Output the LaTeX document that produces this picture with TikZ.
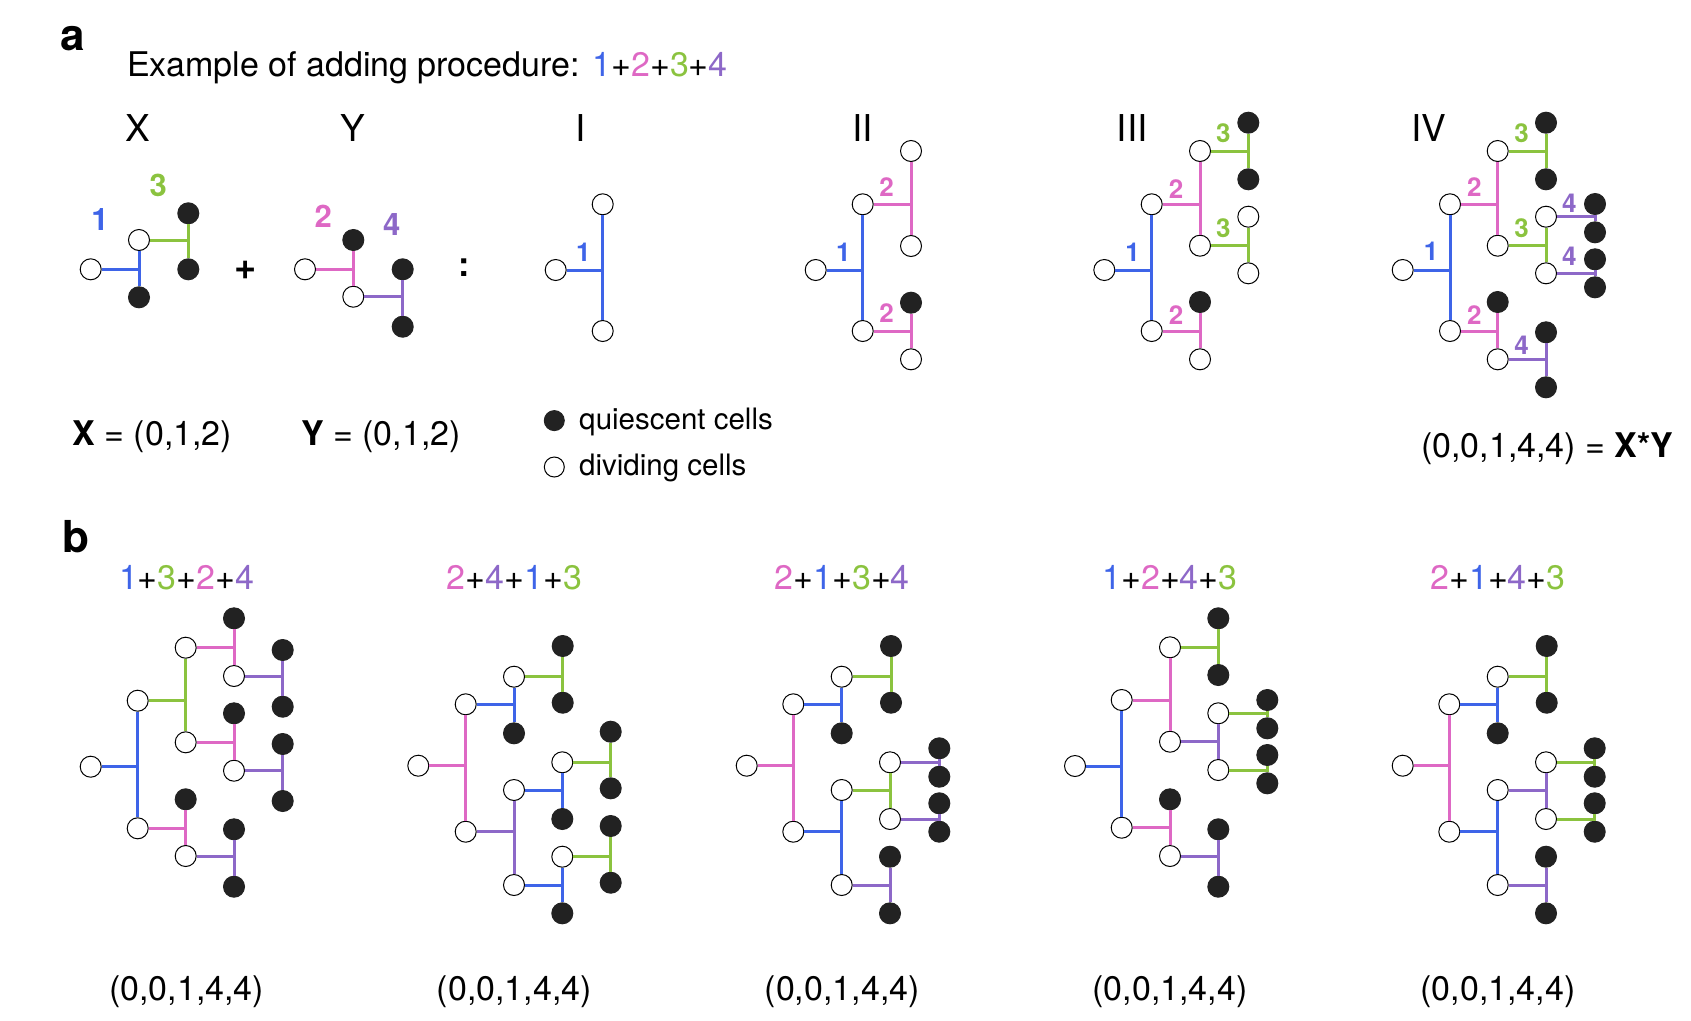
\documentclass[tikz,border=0pt]{standalone}
\usepackage{fontspec}
\setmainfont{TeX Gyre Heros}
\definecolor{cb}{RGB}{62,100,232}
\definecolor{cp}{RGB}{222,104,196}
\definecolor{cg}{RGB}{139,195,63}
\definecolor{cv}{RGB}{141,104,200}
\definecolor{cf}{RGB}{34,34,34}
\newcommand\mydiv[4]{\draw[#1] (#2) -- (#2 -| #3); \draw[#1] (#3) -- (#4);}
\newcommand\opn[2]{\node[oc] (#1) at (#2) {};}
\newcommand\fil[2]{\node[fc] (#1) at (#2) {};}
\begin{document}
\begin{tikzpicture}[x=1pt,y=-1pt,
  oc/.style={circle,draw=black,line width=1pt,fill=white,minimum size=21pt,inner sep=0pt},
  fc/.style={circle,draw=cf,fill=cf,line width=1pt,minimum size=21pt,inner sep=0pt},
  lb/.style={line width=3pt,cb},
  lp/.style={line width=3pt,cp},
  lg/.style={line width=3pt,cg},
  lv/.style={line width=3pt,cv},
  t34/.style={font=\fontsize{34}{40}\selectfont,inner sep=0pt},
  t30/.style={font=\fontsize{29.5}{36}\selectfont,inner sep=0pt},
  t37/.style={font=\fontsize{37}{44}\selectfont,inner sep=0pt},
  big/.style={font=\fontsize{44}{50}\selectfont\bfseries,inner sep=0pt},
  nl/.style={font=\fontsize{26}{32}\selectfont\bfseries,inner sep=0pt},
  nlx/.style={font=\fontsize{31}{36}\selectfont\bfseries,inner sep=0pt}]
\useasboundingbox (0,0) rectangle (1691,1020);

% ---------- texts panel a
\node[big,anchor=base] (la) at (73,50) {a};
\node[t34,anchor=base west] (title) at (127,76) {Example of adding procedure: {\color{cb}1}+{\color{cp}2}+{\color{cg}3}+{\color{cv}4}};
\node[t37,anchor=base] (hX) at (138,141) {X};
\node[t37,anchor=base] (hY) at (352.6,141) {Y};
\node[t37,anchor=base] (hI) at (580.2,141) {I};
\node[t37,anchor=base] (hII) at (862.7,141) {II};
\node[t37,anchor=base] (hIII) at (1132.3,141) {III};
\node[t37,anchor=base] (hIV) at (1428.9,141) {IV};

% ---------- X
\opn{xr}{90.7,269.3}
\opn{xt}{139,240}
\fil{xb}{139,297.3}
\fil{xg1}{188.3,213.3}
\fil{xg2}{188.3,269.3}
\mydiv{lb}{xr}{xt}{xb}
\mydiv{lg}{xt}{xg1}{xg2}
\node[nlx,text=cb] (xl1) at (100,220) {1};
\node[nlx,text=cg] (xl3) at (158.3,185) {3};
\node[inner sep=0pt,font=\fontsize{38}{44}\selectfont\bfseries] (plus) at (246,270) {+};

% ---------- Y
\opn{yr}{305,269.3}
\fil{yt}{353.3,240}
\opn{yb}{353.3,296.7}
\fil{yp1}{402.7,269.3}
\fil{yp2}{402.7,326.7}
\mydiv{lp}{yr}{yt}{yb}
\mydiv{lv}{yb}{yp1}{yp2}
\node[nlx,text=cp] (yl2) at (323.3,216.7) {2};
\node[nlx,text=cv] (yl4) at (391.7,225) {4};
\node[inner sep=0pt,font=\fontsize{34}{40}\selectfont\bfseries] (colon) at (464.3,268) {:};

% ---------- I
\opn{ir}{555.7,270}
\opn{it}{602.7,204.3}
\opn{ib}{602.7,331}
\mydiv{lb}{ir}{it}{ib}
\node[nl,text=cb] (il1) at (583.3,252.7) {1};

% ---------- II
\opn{iir}{815.7,270}
\opn{iit}{862.7,204.3}
\opn{iib}{862.7,331}
\opn{iia}{911,151}
\opn{iic}{911,246}
\fil{iid}{911,302.7}
\opn{iie}{911,359.3}
\mydiv{lb}{iir}{iit}{iib}
\mydiv{lp}{iit}{iia}{iic}
\mydiv{lp}{iib}{iid}{iie}
\node[nl,text=cb] (iil1) at (843.3,252.7) {1};
\node[nl,text=cp] (iil2) at (886.7,186.7) {2};
\node[nl,text=cp] (iil3) at (886.7,313.3) {2};

% ---------- III
\opn{jr}{1104.3,270}
\opn{jt}{1151.7,204.3}
\opn{jb}{1151.7,331}
\opn{ja}{1200,151}
\opn{jc}{1200,245.7}
\fil{jd}{1200,302}
\opn{je}{1200,359.3}
\fil{jg1}{1248.3,122.7}
\fil{jg2}{1248.3,179.3}
\opn{jg3}{1248.3,216.7}
\opn{jg4}{1248.3,273.3}
\mydiv{lb}{jr}{jt}{jb}
\mydiv{lp}{jt}{ja}{jc}
\mydiv{lp}{jb}{jd}{je}
\mydiv{lg}{ja}{jg1}{jg2}
\mydiv{lg}{jc}{jg3}{jg4}
\node[nl,text=cb] (jl1) at (1132.7,252.7) {1};
\node[nl,text=cp] (jl2) at (1176,189.3) {2};
\node[nl,text=cg] (jl3) at (1223.3,133.3) {3};
\node[nl,text=cg] (jl4) at (1223.3,228.3) {3};
\node[nl,text=cp] (jl5) at (1176,315) {2};

% ---------- IV
\opn{kr}{1402.7,270}
\opn{kt}{1450,204.3}
\opn{kb}{1450,331}
\opn{ka}{1497.7,151}
\opn{kc}{1497.7,245.7}
\fil{kd}{1497.7,302}
\opn{ke}{1497.7,359.3}
\fil{kg1}{1546,122.7}
\fil{kg2}{1546,179.3}
\opn{kg3}{1546,216.7}
\opn{kg4}{1546,273.3}
\fil{kp1}{1595,204}
\fil{kp2}{1595,232.3}
\fil{kp3}{1595,259.3}
\fil{kp4}{1595,287.3}
\fil{kp5}{1546,332.3}
\fil{kp6}{1546,387.3}
\mydiv{lb}{kr}{kt}{kb}
\mydiv{lp}{kt}{ka}{kc}
\mydiv{lp}{kb}{kd}{ke}
\mydiv{lg}{ka}{kg1}{kg2}
\mydiv{lg}{kc}{kg3}{kg4}
\mydiv{lv}{kg3}{kp1}{kp2}
\mydiv{lv}{kg4}{kp3}{kp4}
\mydiv{lv}{ke}{kp5}{kp6}
\node[nl,text=cb] (kl1) at (1431,251.7) {1};
\node[nl,text=cp] (kl2) at (1474.3,187.3) {2};
\node[nl,text=cg] (kl3) at (1521.7,133.3) {3};
\node[nl,text=cg] (kl4) at (1521.7,228.3) {3};
\node[nl,text=cv] (kl5) at (1569.3,203.3) {4};
\node[nl,text=cv] (kl6) at (1569.3,256.7) {4};
\node[nl,text=cp] (kl7) at (1474.3,315) {2};
\node[nl,text=cv] (kl8) at (1521.7,345) {4};

% ---------- formulas and legend
\node[t34,anchor=base west] (fX) at (72.3,445) {\textbf{X} = (0,1,2)};
\node[t34,anchor=base west] (fY) at (300.9,445) {\textbf{Y} = (0,1,2)};
\node[t34,anchor=base west] (fXY) at (1421,457) {(0,0,1,4,4) = \textbf{X*Y}};
\node[fc,minimum size=20pt] (legq) at (554.3,420.6) {};
\node[oc,minimum size=20pt] (legd) at (554.3,467) {};
\node[t30,anchor=base west] (legqt) at (579,429) {quiescent cells};
\node[t30,anchor=base west] (legdt) at (579,475.6) {dividing cells};

% ---------- panel b texts
\node[big,anchor=base] (lbb) at (75.5,552) {b};
\node[t34,anchor=base] (h1) at (186.6,589) {{\color{cb}1}+{\color{cg}3}+{\color{cp}2}+{\color{cv}4}};
\node[t34,anchor=base] (h2) at (514.4,589) {{\color{cp}2}+{\color{cv}4}+{\color{cb}1}+{\color{cg}3}};
\node[t34,anchor=base] (h3) at (842.2,589) {{\color{cp}2}+{\color{cb}1}+{\color{cg}3}+{\color{cv}4}};
\node[t34,anchor=base] (h4) at (1170,589) {{\color{cb}1}+{\color{cp}2}+{\color{cv}4}+{\color{cg}3}};
\node[t34,anchor=base] (h5) at (1498,589) {{\color{cp}2}+{\color{cb}1}+{\color{cv}4}+{\color{cg}3}};
\node[t34,anchor=base] (v1) at (186.6,1000) {(0,0,1,4,4)};
\node[t34,anchor=base] (v2) at (514.4,1000) {(0,0,1,4,4)};
\node[t34,anchor=base] (v3) at (842.2,1000) {(0,0,1,4,4)};
\node[t34,anchor=base] (v4) at (1170,1000) {(0,0,1,4,4)};
\node[t34,anchor=base] (v5) at (1498,1000) {(0,0,1,4,4)};

% ---------- b1
\opn{bar}{90.7,766.7}
\opn{bat}{137.7,700.7}
\opn{bab}{137.7,828.3}
\opn{bat1}{185.7,647.7}
\opn{bat2}{185.7,742.3}
\fil{baf1}{234,618.3}
\opn{bao1}{234,676}
\fil{baf2}{282.7,650}
\fil{baf3}{282.7,706.7}
\fil{baf4}{234,713.3}
\opn{bao2}{234,770.7}
\fil{baf5}{282.7,744}
\fil{baf6}{282.7,801}
\fil{baf7}{185.7,799.3}
\opn{bao3}{185.7,856}
\fil{baf8}{234,829.3}
\fil{baf9}{234,886.7}
\mydiv{lb}{bar}{bat}{bab}
\mydiv{lg}{bat}{bat1}{bat2}
\mydiv{lp}{bat1}{baf1}{bao1}
\mydiv{lv}{bao1}{baf2}{baf3}
\mydiv{lp}{bat2}{baf4}{bao2}
\mydiv{lv}{bao2}{baf5}{baf6}
\mydiv{lp}{bab}{baf7}{bao3}
\mydiv{lv}{bao3}{baf8}{baf9}

% ---------- b2
\opn{bbr}{418.3,765.7}
\opn{bbt}{465.7,704.3}
\opn{bbb}{465.7,831.7}
\opn{bbt1}{514,676.7}
\fil{bbf1}{514,733.3}
\fil{bbf2}{562.7,646}
\fil{bbf3}{562.7,702.7}
\opn{bbm1}{514,790}
\opn{bbm2}{514,885}
\opn{bbn1}{562.3,762.3}
\fil{bbf4}{562.3,819}
\fil{bbf5}{610.7,731.7}
\fil{bbf6}{610.7,788.3}
\opn{bbn2}{562.3,856.7}
\fil{bbf7}{562.3,913.3}
\fil{bbf8}{610.7,826}
\fil{bbf9}{610.7,882.7}
\mydiv{lp}{bbr}{bbt}{bbb}
\mydiv{lb}{bbt}{bbt1}{bbf1}
\mydiv{lg}{bbt1}{bbf2}{bbf3}
\mydiv{lv}{bbb}{bbm1}{bbm2}
\mydiv{lb}{bbm1}{bbn1}{bbf4}
\mydiv{lg}{bbn1}{bbf5}{bbf6}
\mydiv{lb}{bbm2}{bbn2}{bbf7}
\mydiv{lg}{bbn2}{bbf8}{bbf9}

% ---------- b3
\opn{bcr}{746.7,765.7}
\opn{bct}{793.3,704.3}
\opn{bcb}{793.3,831.7}
\opn{bct1}{841.7,676.7}
\fil{bcf1}{841.7,733.3}
\fil{bcf2}{891,646}
\fil{bcf3}{891,702.7}
\opn{bcm1}{841.7,790}
\opn{bcm2}{841.7,885}
\opn{bcn1}{890,762.3}
\opn{bcn2}{890,819}
\fil{bcf4}{939.3,748.3}
\fil{bcf5}{939.3,776.7}
\fil{bcf6}{939.3,803.3}
\fil{bcf7}{939.3,831.7}
\fil{bcf8}{890,856.7}
\fil{bcf9}{890,913.3}
\mydiv{lp}{bcr}{bct}{bcb}
\mydiv{lb}{bct}{bct1}{bcf1}
\mydiv{lg}{bct1}{bcf2}{bcf3}
\mydiv{lb}{bcb}{bcm1}{bcm2}
\mydiv{lg}{bcm1}{bcn1}{bcn2}
\mydiv{lv}{bcn1}{bcf4}{bcf5}
\mydiv{lv}{bcn2}{bcf6}{bcf7}
\mydiv{lv}{bcm2}{bcf8}{bcf9}

% ---------- b4
\opn{bdr}{1075,766}
\opn{bdt}{1121.7,700}
\opn{bdb}{1121.7,827.7}
\opn{bdt1}{1170,647.3}
\opn{bdt2}{1170,741.7}
\fil{bdf1}{1218.3,618.3}
\fil{bdf2}{1218.3,675}
\opn{bdn1}{1218.3,713.3}
\opn{bdn2}{1218.3,770}
\fil{bdf3}{1267.3,700}
\fil{bdf4}{1267.3,728.3}
\fil{bdf5}{1267.3,755}
\fil{bdf6}{1267.3,783.3}
\fil{bdf7}{1170,799.3}
\opn{bdo3}{1170,856}
\fil{bdf8}{1218.3,829.3}
\fil{bdf9}{1218.3,886.7}
\mydiv{lb}{bdr}{bdt}{bdb}
\mydiv{lp}{bdt}{bdt1}{bdt2}
\mydiv{lg}{bdt1}{bdf1}{bdf2}
\mydiv{lv}{bdt2}{bdn1}{bdn2}
\mydiv{lg}{bdn1}{bdf3}{bdf4}
\mydiv{lg}{bdn2}{bdf5}{bdf6}
\mydiv{lp}{bdb}{bdf7}{bdo3}
\mydiv{lv}{bdo3}{bdf8}{bdf9}

% ---------- b5
\opn{ber}{1402.7,765.7}
\opn{bet}{1449.3,704.3}
\opn{beb}{1449.3,831.7}
\opn{bet1}{1497.7,676.7}
\fil{bef1}{1497.7,733.3}
\fil{bef2}{1546.7,646}
\fil{bef3}{1546.7,702.7}
\opn{bem1}{1497.7,790}
\opn{bem2}{1497.7,885}
\opn{ben1}{1546,762.3}
\opn{ben2}{1546,819}
\fil{bef4}{1594.7,748.3}
\fil{bef5}{1594.7,776.7}
\fil{bef6}{1594.7,803.3}
\fil{bef7}{1594.7,831.7}
\fil{bef8}{1546,856.7}
\fil{bef9}{1546,913.3}
\mydiv{lp}{ber}{bet}{beb}
\mydiv{lb}{bet}{bet1}{bef1}
\mydiv{lg}{bet1}{bef2}{bef3}
\mydiv{lb}{beb}{bem1}{bem2}
\mydiv{lv}{bem1}{ben1}{ben2}
\mydiv{lg}{ben1}{bef4}{bef5}
\mydiv{lg}{ben2}{bef6}{bef7}
\mydiv{lv}{bem2}{bef8}{bef9}
\end{tikzpicture}
\end{document}
